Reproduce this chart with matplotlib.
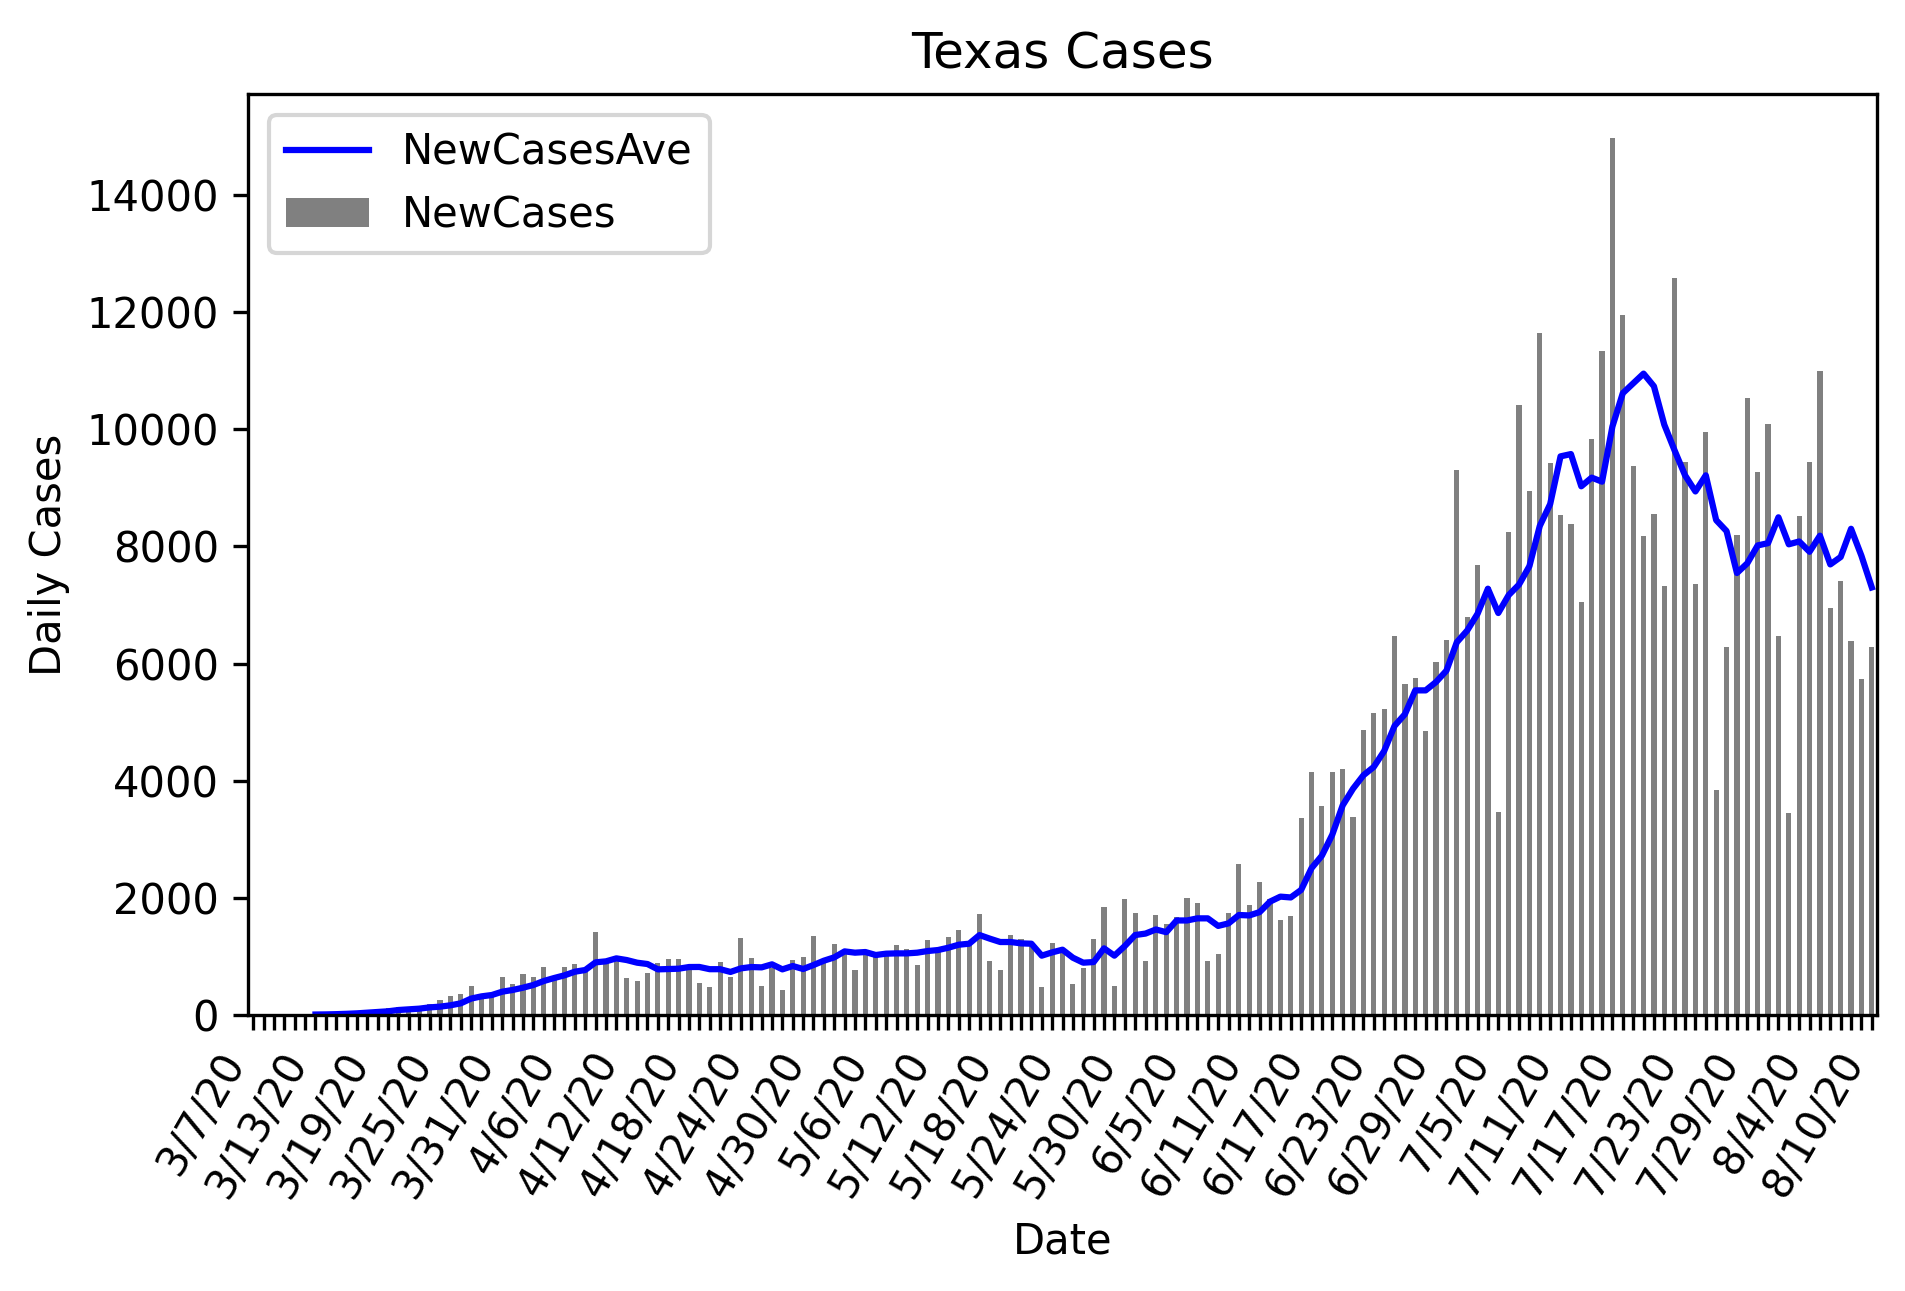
import matplotlib
matplotlib.use("Agg")
import matplotlib.pyplot as plt
import pandas as pd

# casos diarios desde el 3/7/20
fecha_inicio = "2020-03-07"

new_cases = [
    2, 3, 1, 4, 8, 6, 13, 12, 20, 30, 45, 70, 100, 120, 140, 110, 150,
    188, 256, 324, 355, 495, 330, 365, 648, 523, 700, 648, 819, 640, 819,
    870, 780, 1416, 880, 945, 631, 580, 717, 887, 955, 955, 810, 546, 478,
    904, 650, 1314, 970, 498, 796, 427, 939, 990, 1348, 910, 1212, 1052,
    768, 1041, 990, 1040, 1195, 1126, 853, 1280, 1110, 1331, 1450, 1223,
    1724, 921, 768, 1365, 1297, 1223, 478, 1229, 1110, 529, 808, 1297,
    1843, 495, 1980, 1741, 921, 1706, 1560, 1670, 1993, 1915, 921, 1043,
    1745, 2575, 1886, 2265, 1980, 1614, 1686, 3372, 4155, 3570, 4155,
    4200, 3380, 4870, 5165, 5225, 6470, 5645, 5750, 4855, 6020, 6400,
    9310, 6800, 7690, 7300, 3470, 8240, 10420, 8940, 11645, 9420, 8540,
    8385, 7055, 9830, 11340, 14978, 11950, 9370, 8180, 8550, 7325, 12583,
    9447, 7360, 9960, 3835, 6285, 8195, 10540, 9272, 10100, 6478, 3450,
    8520, 9436, 11000, 6956, 7410, 6389, 5730, 6280,
]

# promedio de 7 dias, empieza el 3/13/20
new_cases_ave = [
    8, 10, 14, 20, 28, 40, 52, 63, 85, 97, 108, 130, 142, 165, 199, 280,
    318, 341, 398, 427, 466, 512, 580, 631, 677, 739, 768, 899, 916, 967,
    938, 893, 870, 779, 785, 790, 819, 820, 782, 782, 735, 796, 819, 813,
    865, 779, 836, 785, 853, 927, 984, 1086, 1064, 1075, 1024, 1047, 1052,
    1052, 1064, 1092, 1109, 1149, 1200, 1217, 1365, 1303, 1246, 1246, 1223,
    1217, 1013, 1069, 1115, 978, 893, 904, 1138, 1013, 1177, 1365, 1390,
    1460, 1414, 1614, 1614, 1650, 1650, 1521, 1564, 1707, 1700, 1757, 1936,
    2021, 2007, 2136, 2507, 2721, 3079, 3579, 3864, 4093, 4236, 4507, 4936,
    5136, 5543, 5543, 5686, 5879, 6364, 6564, 6850, 7279, 6864, 7170, 7350,
    7664, 8351, 8724, 9539, 9578, 9028, 9176, 9107, 10049, 10618, 10785,
    10952, 10736, 10079, 9637, 9215, 8940, 9215, 8450, 8263, 7547, 7713,
    8018, 8057, 8498, 8037, 8086, 7910, 8185, 7694, 7821, 8302, 7841, 7301,
]
inicio_ave = 6


def Graficador():
    n = len(new_cases)
    fechas = pd.date_range(fecha_inicio, periods=n)
    etiquetas = [f"{f.month}/{f.day}/20" if i % 6 == 0 else ""
                 for i, f in enumerate(fechas)]

    fig = plt.figure(figsize=(1905 / 300, 1291 / 300), dpi=300)
    ax = fig.add_axes([0.1302, 0.2138, 0.8551, 0.7134])

    ax.plot(range(inicio_ave, inicio_ave + len(new_cases_ave)), new_cases_ave,
            color="blue", label="NewCasesAve")
    ax.bar(range(n), new_cases, width=0.5, color="gray", label="NewCases")

    ax.set_xlim(-0.5, n - 0.5)
    ax.set_ylim(0, max(new_cases) * 1.05)
    ax.set_xticks(range(n))
    ax.set_xticklabels(etiquetas, rotation=60, ha="right")

    ax.set_title("Texas Cases")
    ax.set_xlabel("Date")
    ax.set_ylabel("Daily Cases")
    ax.legend(loc="upper left")

    fig.savefig("out.png", dpi=300)


def main():
    Graficador()


if __name__ == "__main__":
    main()
